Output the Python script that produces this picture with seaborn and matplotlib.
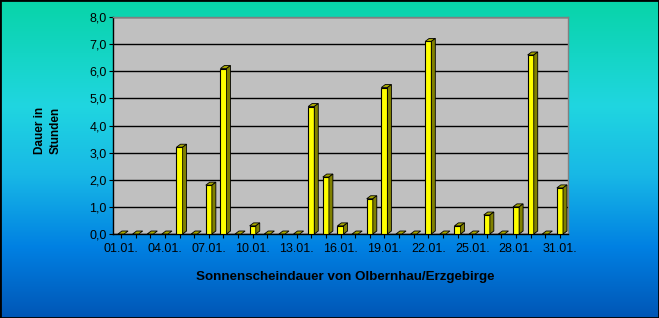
import numpy as np
import pandas as pd
import matplotlib
matplotlib.use("Agg")
import matplotlib.pyplot as plt
from matplotlib.patches import Polygon
from matplotlib.colors import LinearSegmentedColormap
import seaborn as sns

days = [f"{d:02d}.01." for d in range(1, 32)]
hours = [0, 0, 0, 0, 3.2, 0, 1.8, 6.1, 0, 0.3, 0, 0, 0, 4.7, 2.1, 0.3, 0, 1.3, 5.4,
         0, 0, 7.1, 0, 0.3, 0, 0.7, 0, 1.0, 6.6, 0, 1.7]
y_ticks = [0, 1, 2, 3, 4, 5, 6, 7, 8]
y_labels = ["0,0", "1,0", "2,0", "3,0", "4,0", "5,0", "6,0", "7,0", "8,0"]
xlabel = "Sonnenscheindauer von Olbernhau/Erzgebirge"
ylabel = "Dauer in\nStunden"

sns.set_theme(style="white")
plt.rcParams['font.family'] = ['Liberation Sans', 'DejaVu Sans']

W, H = 659, 318
fig = plt.figure(figsize=(W / 100, H / 100), dpi=100)

# background gradient
bg = fig.add_axes([0, 0, 1, 1], zorder=-10)
cmap = LinearSegmentedColormap.from_list("bg", [
    (0.0, (8/255, 212/255, 168/255)),
    (0.33, (32/255, 214/255, 224/255)),
    (0.55, (24/255, 184/255, 230/255)),
    (0.78, (0/255, 128/255, 226/255)),
    (1.0, (0/255, 86/255, 182/255)),
])
grad = np.linspace(0, 1, 256).reshape(-1, 1)
bg.imshow(grad, aspect="auto", cmap=cmap, extent=[0, 1, 1, 0])
bg.set_xlim(0, 1); bg.set_ylim(1, 0)
bg.axis("off")
bg.add_patch(plt.Rectangle((0, 0), 1, 1, transform=bg.transAxes, fill=False,
                           edgecolor="black", linewidth=2))

left, right, top, bottom = 113, 568, 17, 234
ax = fig.add_axes([left / W, 1 - bottom / H, (right - left) / W, (bottom - top) / H])
ax.set_facecolor("#C0C0C0")

df = pd.DataFrame({"day": days, "hours": hours})
sns.barplot(data=df, x="day", y="hours", ax=ax, color="#FFFF00", width=0.42,
            saturation=1, edgecolor="black", linewidth=0.8, zorder=3)

dx, dy = 0.27, 0.11
for p in ax.patches:
    x0 = p.get_x(); w = p.get_width(); h = p.get_height()
    x1 = x0 + w
    top_poly = Polygon([(x0, h), (x1, h), (x1 + dx, h + dy), (x0 + dx, h + dy)],
                       closed=True, facecolor="#A8A800", edgecolor="black",
                       linewidth=0.6, zorder=4)
    ax.add_patch(top_poly)
    if h > 0:
        side = Polygon([(x1, 0), (x1 + dx, dy), (x1 + dx, h + dy), (x1, h)],
                       closed=True, facecolor="#808000", edgecolor="black",
                       linewidth=0.6, zorder=4)
        ax.add_patch(side)

ax.set_ylim(0, 8)
ax.set_xlim(-0.55, 30.55)
ax.set_yticks(y_ticks)
ax.set_yticklabels(y_labels)
ax.set_xticks(range(len(days)))
ax.set_xticklabels([d if i % 3 == 0 else "" for i, d in enumerate(days)])
ax.grid(axis="y", color="black", linewidth=1.0, zorder=1)
ax.set_axisbelow(True)
ax.tick_params(axis="both", which="both", length=3, width=0.8, color="black",
               labelsize=9, labelcolor="black", direction="out", pad=1.5)
ax.tick_params(axis="x", bottom=True, pad=3.5)
ax.tick_params(axis="y", left=True)
for s in ["top", "right"]:
    ax.spines[s].set_color("#808080")
    ax.spines[s].set_linewidth(1)
for s in ["left", "bottom"]:
    ax.spines[s].set_color("black")
    ax.spines[s].set_linewidth(1)
ax.set_xlabel(xlabel, fontsize=9.6, fontweight="bold", color="black")
ax.xaxis.set_label_coords(0.51, -0.2)
ax.xaxis.label.set_va("center")
ax.set_ylabel("")
fig.text(48 / W, 1 - 130 / H, ylabel, rotation=90, ha="center", va="center",
         fontsize=8.5, fontweight="bold", color="black", multialignment="center",
         linespacing=1.45)

fig.savefig("out.png", dpi=100)
